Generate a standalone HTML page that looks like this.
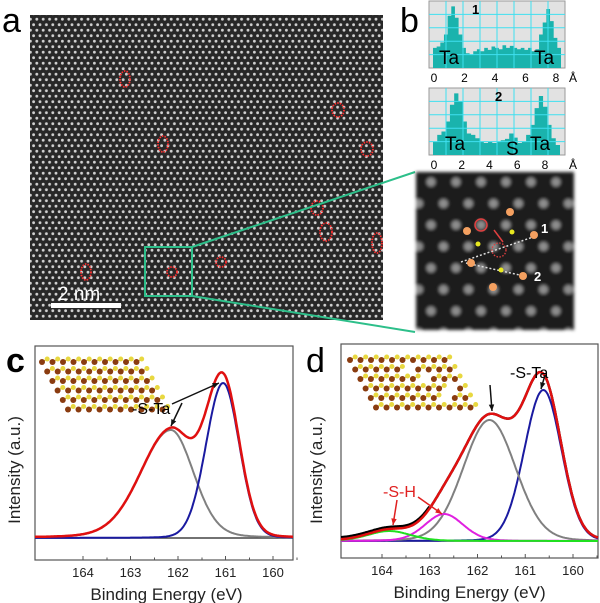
<!DOCTYPE html>
<html><head><meta charset="utf-8"><style>
body{margin:0;background:#fff;}
svg{display:block;font-family:"Liberation Sans",sans-serif;}
</style></head><body>
<svg id="fig" width="600" height="603" viewBox="0 0 600 603" xmlns="http://www.w3.org/2000/svg">
<defs>
<pattern id="lat" width="6.4" height="11" patternUnits="userSpaceOnUse">
<rect width="6.4" height="11" fill="#282828"/>
<circle cx="1.6" cy="2.7" r="1.4" fill="#d0d0d0"/>
<circle cx="4.8" cy="8.2" r="1.4" fill="#d0d0d0"/>
</pattern>
<pattern id="lat2" width="25" height="43" patternUnits="userSpaceOnUse">
<rect width="25" height="43" fill="#1c1c1c"/>
<circle cx="6" cy="10" r="4.5" fill="#aaa" opacity="0.8"/>
<circle cx="18.5" cy="31.5" r="4.5" fill="#aaa" opacity="0.8"/>
</pattern>
<filter id="bl"><feGaussianBlur stdDeviation="1.5"/></filter>
</defs>

<text x="2" y="32" font-size="34">a</text>
<rect x="30" y="15" width="353" height="305" fill="url(#lat)"/>
<g fill="none" stroke="#ff3030" stroke-width="1.8" stroke-dasharray="1.5 1.2">
<ellipse cx="125" cy="79" rx="5" ry="8"/><ellipse cx="163" cy="144" rx="5" ry="8"/>
<ellipse cx="338" cy="110" rx="6" ry="7"/><ellipse cx="367" cy="149" rx="6" ry="7"/>
<ellipse cx="317" cy="208" rx="6" ry="7"/><ellipse cx="326" cy="232" rx="6" ry="9"/>
<ellipse cx="377" cy="243" rx="5" ry="10"/><ellipse cx="221" cy="262" rx="5" ry="5"/>
<ellipse cx="172" cy="272" rx="5" ry="5"/><ellipse cx="86" cy="272" rx="5" ry="8"/>
</g>
<rect x="51" y="303" width="70" height="5" fill="#fff"/>
<text x="58" y="300" font-size="19" fill="#fff">2 nm</text>
<rect x="145" y="247" width="47" height="49" fill="none" stroke="#2dbf8a" stroke-width="2"/>
<line x1="192" y1="247" x2="415" y2="172" stroke="#2dbf8a" stroke-width="2"/>
<line x1="192" y1="296" x2="415" y2="332" stroke="#2dbf8a" stroke-width="2"/>

<text x="400" y="32" font-size="34">b</text>
<g id="hist1"></g>
<g id="hist2"></g>
<rect x="416" y="172" width="158" height="158" fill="url(#lat2)" filter="url(#bl)"/>
<g>
<line x1="461" y1="262" x2="536" y2="236" stroke="#ddd" stroke-width="1.5" stroke-dasharray="2 2"/>
<line x1="466" y1="263" x2="524" y2="276" stroke="#ddd" stroke-width="1.5" stroke-dasharray="2 2"/>
<g fill="#f4a060"><circle cx="510" cy="212" r="4"/><circle cx="467" cy="231" r="4"/><circle cx="534" cy="235" r="4"/><circle cx="471" cy="263" r="4"/><circle cx="523" cy="276" r="4"/><circle cx="493" cy="287" r="4"/></g>
<g fill="#e8e820"><circle cx="478" cy="244" r="2.5"/><circle cx="512" cy="232" r="2.5"/><circle cx="501" cy="270" r="2.5"/></g>
<circle cx="481" cy="225" r="6" fill="none" stroke="#e04040" stroke-width="1.5"/>
<circle cx="499" cy="250" r="7" fill="none" stroke="#e04040" stroke-width="1.3" stroke-dasharray="1.5 1.5"/>
<line x1="503" y1="242" x2="494" y2="230" stroke="#e04040" stroke-width="1.5"/>
<text x="541" y="233" font-size="13" font-weight="bold" fill="#fff">1</text>
<text x="534" y="281" font-size="13" font-weight="bold" fill="#fff">2</text>
</g>

<text x="6" y="372" font-size="34" font-weight="bold">c</text>
<g id="panc"></g>
<text x="306" y="372" font-size="34">d</text>
<g id="pand"></g>
</svg>
<script>
// ---- data ----
const hist1Values=[0.3,0.32,0.38,0.5,0.78,0.92,0.75,0.5,0.3,0.22,0.2,0.25,0.28,0.25,0.3,0.27,0.32,0.3,0.28,0.34,0.3,0.33,0.3,0.28,0.3,0.27,0.3,0.25,0.28,0.5,0.68,0.88,0.7,0.45,0.3];
const hist2Values=[0.2,0.3,0.35,0.5,0.75,0.92,0.8,0.5,0.32,0.3,0.25,0.2,0.18,0.2,0.18,0.2,0.22,0.24,0.32,0.26,0.18,0.2,0.3,0.45,0.7,0.88,0.72,0.45,0.25,0.15];
const hist1Ticks=["0","2","4","6","8"];
const hist2Ticks=["0","2","4","6","8"];
// XPS peak fits: center eV, height, sigma on high-energy side, sigma on low-energy side
const cCenters=[162.15,161.05];
const cHeights=[108,155];
const cWidthsHigh=[0.64,0.36];
const cWidthsLow=[0.48,0.34];
const cColors=["#808080","#1a1aa0"];
const dCenters=[160.62,161.75,162.7,163.85];
const dHeights=[151,121,27,10];
const dWidthsHigh=[0.4,0.55,0.4,0.45];
const dWidthsLow=[0.38,0.55,0.4,0.45];
const dColors=["#1a1aa0","#808080","#e020e0","#20e020"];
const xTicks=[164,163,162,161,160];

const NS="http://www.w3.org/2000/svg";
function mk(p,t,a){const e=document.createElementNS(NS,t);for(const k in a)e.setAttribute(k,a[k]);p.appendChild(e);return e;}

function hist(g,vals,ticks,x0,y0,w,h,fx0,fx1,tx0,tx1,labels){
  mk(g,'rect',{x:x0,y:y0,width:w,height:h,fill:'#e2e2e2',stroke:'#999'});
  const bw=(fx1-fx0)/vals.length;
  let d='M'+fx0+','+(y0+h);
  vals.forEach((v,i)=>{const y=y0+h-v*h;d+=' L'+(fx0+i*bw)+','+y+' L'+(fx0+(i+1)*bw)+','+y;});
  d+=' L'+fx1+','+(y0+h)+'Z';
  const p=mk(g,'path',{d:d,fill:'#1ab3ad'});
  
  
  for(let i=1;i<8;i++)mk(g,'line',{x1:x0+i*w/8,y1:y0,x2:x0+i*w/8,y2:y0+h,stroke:'#3fe0f0','stroke-width':1});
  for(let i=1;i<5;i++)mk(g,'line',{x1:x0,y1:y0+i*h/5,x2:x0+w,y2:y0+i*h/5,stroke:'#3fe0f0','stroke-width':1});
  ticks.forEach((t,i)=>{const x=tx0+(tx1-tx0)*i/(ticks.length-1);const e=mk(g,'text',{x:x,y:y0+h+14,'font-size':12,'text-anchor':'middle'});e.textContent=t;});
  const a=mk(g,'text',{x:x0+w+4,y:y0+h+14,'font-size':12});a.textContent='Å';
  labels.forEach(l=>{const e=mk(g,'text',{x:l[0],y:l[1],'font-size':l[3]||19,'font-weight':l[3]?'bold':'normal'});e.textContent=l[2];});
}
hist(document.getElementById('hist1'),hist1Values,hist1Ticks,429,1,136,67,433,561,434,556,[[472,14,'1',13],[439,64,'Ta'],[534,64,'Ta']]);
hist(document.getElementById('hist2'),hist2Values,hist2Ticks,429,88,136,67,433,560,434,545,[[495,101,'2',13],[445,150,'Ta'],[506,155,'S'],[530,150,'Ta']]);

function pv(e,c,h,sHi,sLo,f){const s=e>c?sHi:sLo;const g=Math.exp(-(e-c)*(e-c)/(2*s*s));const gam=s*1.177;const l=gam*gam/((e-c)*(e-c)+gam*gam);return h*((1-f)*g+f*l);}

function lattice(g,x0,y0,cols,rows,holes){
  for(let r=0;r<rows;r++)for(let c=0;c<cols;c++){
    const x=x0+c*10.5+r*5.2, y=y0+r*9.5;
    if(holes.includes(r*cols+c))continue;
    mk(g,'line',{x1:x,y1:y,x2:x+5.2,y2:y-3,stroke:'#c8a020','stroke-width':1});
    mk(g,'circle',{cx:x,cy:y,r:3,fill:'#8a3c10'});
    mk(g,'circle',{cx:x+5.2,cy:y-3,r:2.5,fill:'#e8d840'});
  }
}

function xps(g,L,T,R,B,x0,pxPer){
  const X=e=>x0+(164-e)*pxPer;
  const eMin=164-(R-x0)/pxPer, eMax=164+(x0-L)/pxPer;
  mk(g,'rect',{x:L,y:T,width:R-L,height:B-T,fill:'#fff',stroke:'#555','stroke-width':1.2});
  const ins=mk(g,'g',{});
  
  
  return {X,eMin,eMax,ins};
}
function drawCurves(g,X,eMin,eMax,base,centers,heights,wHi,wLo,colors,lf,extra){
  const n=240;
  const path=fn=>{let d='';for(let i=0;i<=n;i++){const e=eMax-(eMax-eMin)*i/n;d+=(i?'L':'M')+X(e).toFixed(1)+','+(base-fn(e)).toFixed(1);}return d;};
  mk(g,'line',{x1:X(eMax),y1:base,x2:X(eMin),y2:base,stroke:'#444','stroke-width':1.5});
  const one=(e,i)=>pv(e,centers[i],heights[i],wHi[i],wLo[i],lf[i]);
  const sum=e=>centers.reduce((a,c,i)=>a+one(e,i),0);
  if(extra){const b=mk(g,'path',{d:path(e=>sum(e)+(e>163?2:0)),fill:'none',stroke:'#000','stroke-width':2.5});
    }
  centers.forEach((c,i)=>{const p=mk(g,'path',{d:path(e=>one(e,i)),fill:'none',stroke:colors[i],'stroke-width':2});
    });
  const r=mk(g,'path',{d:path(sum),fill:'none',stroke:'#e01010','stroke-width':2.5});
  
}
function axes(g,X,L,B,ylabelX,midY){
  xTicks.forEach(t=>{const x=X(t);mk(g,'line',{x1:x,y1:B,x2:x,y2:B-4,stroke:'#555'});
    mk(g,'line',{x1:x+24,y1:B,x2:x+24,y2:B-2.5,stroke:'#555'});
    const e=mk(g,'text',{x:x,y:B+17,'font-size':13,'text-anchor':'middle',fill:'#222'});e.textContent=t;});
  const xl=mk(g,'text',{x:(L+X(159.6))/2+3,y:B+40,'font-size':17,'text-anchor':'middle',fill:'#222'});xl.textContent='Binding Energy (eV)';
  
  const yl=mk(g,'text',{x:ylabelX,y:midY,'font-size':17,'text-anchor':'middle',fill:'#222',transform:'rotate(-90 '+ylabelX+' '+midY+')'});yl.textContent='Intensity (a.u.)';
  
}
function arrow(g,x1,y1,x2,y2,col){mk(g,'line',{x1,y1,x2,y2,stroke:col,'stroke-width':1.5});
  const a=Math.atan2(y2-y1,x2-x1),s=7;
  mk(g,'path',{d:`M${x2},${y2} L${x2-s*Math.cos(a-0.4)},${y2-s*Math.sin(a-0.4)} L${x2-s*Math.cos(a+0.4)},${y2-s*Math.sin(a+0.4)}Z`,fill:col});}

(function(){
  const g=document.getElementById('panc');
  const L=35,T=346,R=293,B=560,base=538;
  const o=xps(g,L,T,R,B,83,47.5);
  lattice(o.ins,42,362,10,6,[]);
  drawCurves(g,o.X,o.eMin,o.eMax,base,cCenters,cHeights,cWidthsHigh,cWidthsLow,cColors,[0.15,0.05],false);
  axes(g,o.X,L,B,20,470);
  const t=mk(g,'text',{x:132,y:414,'font-size':16});t.textContent='-S-Ta';
  arrow(g,182,403,171,426,'#111');arrow(g,172,404,219,383,'#111');
})();
(function(){
  const g=document.getElementById('pand');
  const L=341,T=344,R=598,B=558,base=541;
  const o=xps(g,L,T,R,B,382,47.75);
  lattice(o.ins,350,360,10,6,[15,26,38,47]);
  drawCurves(g,o.X,o.eMin,o.eMax,base,dCenters,dHeights,dWidthsHigh,dWidthsLow,dColors,[0.05,0.08,0.15,0.2],true);
  axes(g,o.X,L,B,322,470);
  const t=mk(g,'text',{x:510,y:378,'font-size':16});t.textContent='-S-Ta';
  arrow(g,490,385,492,411,'#111');arrow(g,545,375,541,389,'#111');
  const s=mk(g,'text',{x:383,y:497,'font-size':16,fill:'#e02020'});s.textContent='-S-H';
  arrow(g,397,500,393,525,'#e02020');arrow(g,418,497,442,514,'#e02020');
})();
</script>
</body></html>
